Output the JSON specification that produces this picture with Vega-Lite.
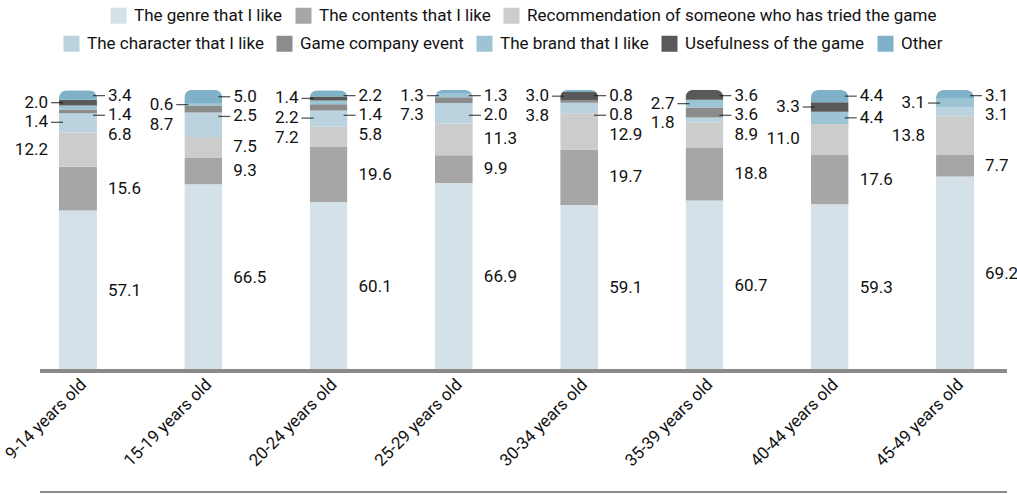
{
  "$schema": "https://vega.github.io/schema/vega-lite/v6.json",
  "width": 967,
  "height": 281,
  "autosize": "none",
  "padding": {"left": 40, "top": 90, "right": 10, "bottom": 123},
  "background": "#ffffff",
  "config": {
    "view": {"stroke": null},
    "font": "Roboto",
    "legend": {
      "orient": "none",
      "direction": "horizontal",
      "title": null,
      "symbolType": "square",
      "symbolSize": 256,
      "symbolStrokeWidth": 0,
      "symbolOpacity": 1,
      "labelFont": "Roboto",
      "labelFontSize": 17,
      "labelColor": "#111111",
      "labelLimit": 1000,
      "labelOffset": 7,
      "columnPadding": 12
    }
  },
  "datasets": {
    "shares": [
      {"age": "9-14 years old", "category": "The genre that I like", "value": 57.1},
      {"age": "9-14 years old", "category": "The contents that I like", "value": 15.6},
      {"age": "9-14 years old", "category": "Recommendation of someone who has tried the game", "value": 12.2},
      {"age": "9-14 years old", "category": "The character that I like", "value": 6.8},
      {"age": "9-14 years old", "category": "Game company event", "value": 1.4},
      {"age": "9-14 years old", "category": "The brand that I like", "value": 1.4},
      {"age": "9-14 years old", "category": "Usefulness of the game", "value": 2.0},
      {"age": "9-14 years old", "category": "Other", "value": 3.4},

      {"age": "15-19 years old", "category": "The genre that I like", "value": 66.5},
      {"age": "15-19 years old", "category": "The contents that I like", "value": 9.3},
      {"age": "15-19 years old", "category": "Recommendation of someone who has tried the game", "value": 7.5},
      {"age": "15-19 years old", "category": "The character that I like", "value": 8.7},
      {"age": "15-19 years old", "category": "Game company event", "value": 2.5},
      {"age": "15-19 years old", "category": "The brand that I like", "value": 0.6},
      {"age": "15-19 years old", "category": "Other", "value": 5.0},

      {"age": "20-24 years old", "category": "The genre that I like", "value": 60.1},
      {"age": "20-24 years old", "category": "The contents that I like", "value": 19.6},
      {"age": "20-24 years old", "category": "Recommendation of someone who has tried the game", "value": 7.2},
      {"age": "20-24 years old", "category": "The character that I like", "value": 5.8},
      {"age": "20-24 years old", "category": "Game company event", "value": 2.2},
      {"age": "20-24 years old", "category": "The brand that I like", "value": 1.4},
      {"age": "20-24 years old", "category": "Usefulness of the game", "value": 1.4},
      {"age": "20-24 years old", "category": "Other", "value": 2.2},

      {"age": "25-29 years old", "category": "The genre that I like", "value": 66.9},
      {"age": "25-29 years old", "category": "The contents that I like", "value": 9.9},
      {"age": "25-29 years old", "category": "Recommendation of someone who has tried the game", "value": 11.3},
      {"age": "25-29 years old", "category": "The character that I like", "value": 7.3},
      {"age": "25-29 years old", "category": "Game company event", "value": 2.0},
      {"age": "25-29 years old", "category": "The brand that I like", "value": 1.3},
      {"age": "25-29 years old", "category": "Other", "value": 1.3},

      {"age": "30-34 years old", "category": "The genre that I like", "value": 59.1},
      {"age": "30-34 years old", "category": "The contents that I like", "value": 19.7},
      {"age": "30-34 years old", "category": "Recommendation of someone who has tried the game", "value": 12.9},
      {"age": "30-34 years old", "category": "The character that I like", "value": 3.8},
      {"age": "30-34 years old", "category": "Game company event", "value": 0.8},
      {"age": "30-34 years old", "category": "Usefulness of the game", "value": 3.0},
      {"age": "30-34 years old", "category": "Other", "value": 0.8},

      {"age": "35-39 years old", "category": "The genre that I like", "value": 60.7},
      {"age": "35-39 years old", "category": "The contents that I like", "value": 18.8},
      {"age": "35-39 years old", "category": "Recommendation of someone who has tried the game", "value": 8.9},
      {"age": "35-39 years old", "category": "The character that I like", "value": 1.8},
      {"age": "35-39 years old", "category": "Game company event", "value": 3.6},
      {"age": "35-39 years old", "category": "The brand that I like", "value": 2.7},
      {"age": "35-39 years old", "category": "Usefulness of the game", "value": 3.6},

      {"age": "40-44 years old", "category": "The genre that I like", "value": 59.3},
      {"age": "40-44 years old", "category": "The contents that I like", "value": 17.6},
      {"age": "40-44 years old", "category": "Recommendation of someone who has tried the game", "value": 11.0},
      {"age": "40-44 years old", "category": "The brand that I like", "value": 4.4},
      {"age": "40-44 years old", "category": "Usefulness of the game", "value": 3.3},
      {"age": "40-44 years old", "category": "Other", "value": 4.4},

      {"age": "45-49 years old", "category": "The genre that I like", "value": 69.2},
      {"age": "45-49 years old", "category": "The contents that I like", "value": 7.7},
      {"age": "45-49 years old", "category": "Recommendation of someone who has tried the game", "value": 13.8},
      {"age": "45-49 years old", "category": "The character that I like", "value": 3.1},
      {"age": "45-49 years old", "category": "The brand that I like", "value": 3.1},
      {"age": "45-49 years old", "category": "Other", "value": 3.1}
    ]
  },
  "data": {"name": "shares"},
  "transform": [
    {"calculate": "indexof(['The genre that I like','The contents that I like','Recommendation of someone who has tried the game','The character that I like','Game company event','The brand that I like','Usefulness of the game','Other'], datum.category)", "as": "idx"}
  ],
  "layer": [
    {
      "mark": {"type": "bar", "cornerRadiusEnd": 8},
      "encoding": {
        "x": {
          "field": "age",
          "type": "nominal",
          "sort": ["9-14 years old", "15-19 years old", "20-24 years old", "25-29 years old", "30-34 years old", "35-39 years old", "40-44 years old", "45-49 years old"],
          "scale": {"range": [19, 934], "paddingInner": 0.697, "paddingOuter": 0},
          "axis": {
            "title": null,
            "domain": false,
            "ticks": false,
            "labelAngle": -45,
            "labelFont": "Roboto",
            "labelFontSize": 17,
            "labelColor": "#111111",
            "labelPadding": 5
          }
        },
        "y": {
          "field": "value",
          "type": "quantitative",
          "stack": "zero",
          "scale": {"domain": [0, 100], "nice": false},
          "axis": null
        },
        "color": {
          "field": "category",
          "type": "nominal",
          "scale": {
            "domain": ["The genre that I like", "The contents that I like", "Recommendation of someone who has tried the game", "The character that I like", "Game company event", "The brand that I like", "Usefulness of the game", "Other"],
            "range": ["#d5e1e8", "#a6a6a6", "#cccccc", "#bad3de", "#8c8c8c", "#9dc4d4", "#595959", "#7fb2c8"]
          },
          "legend": null
        },
        "order": {"field": "idx", "type": "quantitative", "sort": "ascending"}
      }
    },
    {
      "mark": {"type": "rule", "color": "#8a8a8a", "strokeWidth": 3},
      "encoding": {"y": {"datum": 0}}
    },
    {
      "mark": {"type": "rule", "color": "#8a8a8a", "strokeWidth": 1.5},
      "encoding": {"y": {"datum": -43.06}}
    },
    {
      "transform": [
        {"filter": "datum.value > 0"},
        {"stack": "value", "groupby": ["age"], "sort": [{"field": "idx", "order": "ascending"}], "as": ["s0", "s1"]},
        {"calculate": "(datum.s0 + datum.s1) / 2", "as": "mid"},
        {"window": [{"op": "row_number", "as": "rk"}], "groupby": ["age"], "sort": [{"field": "idx", "order": "descending"}]},
        {"calculate": "(datum.idx <= 1 || datum.rk % 2 == 1) ? 'R' : 'L'", "as": "side"},
        {"window": [{"op": "row_number", "as": "r"}], "groupby": ["age", "side"], "sort": [{"field": "idx", "order": "descending"}]},
        {"calculate": "datum.mid + datum.r * 7", "as": "v"},
        {"window": [{"op": "min", "field": "v", "as": "cm"}], "groupby": ["age", "side"], "sort": [{"field": "idx", "order": "descending"}], "frame": [null, 0]},
        {"calculate": "min(datum.cm, 105) - datum.r * 7", "as": "ly"}
      ],
      "encoding": {
        "x": {"field": "age", "type": "nominal", "sort": ["9-14 years old", "15-19 years old", "20-24 years old", "25-29 years old", "30-34 years old", "35-39 years old", "40-44 years old", "45-49 years old"]},
        "y": {"field": "ly", "type": "quantitative"}
      },
      "layer": [
        {
          "transform": [{"filter": "datum.side == 'R' && datum.idx >= 4"}],
          "mark": {"type": "tick", "orient": "horizontal", "size": 12, "thickness": 1.3, "color": "#111111", "xOffset": 21}
        },
        {
          "transform": [{"filter": "datum.side == 'L' && datum.idx >= 4"}],
          "mark": {"type": "tick", "orient": "horizontal", "size": 12, "thickness": 1.3, "color": "#111111", "xOffset": -21}
        },
        {
          "transform": [{"filter": "datum.side == 'R'"}],
          "mark": {"type": "text", "align": "left", "baseline": "middle", "dx": 30, "font": "Roboto", "fontSize": 17, "color": "#111111"},
          "encoding": {"text": {"field": "value", "type": "quantitative", "format": ".1f"}}
        },
        {
          "transform": [{"filter": "datum.side == 'L'"}],
          "mark": {"type": "text", "align": "right", "baseline": "middle", "dx": -30, "font": "Roboto", "fontSize": 17, "color": "#111111"},
          "encoding": {"text": {"field": "value", "type": "quantitative", "format": ".1f"}}
        }
      ]
    },
    {
      "transform": [{"filter": "datum.idx <= 2"}],
      "mark": {"type": "square", "opacity": 0},
      "encoding": {
        "color": {
          "field": "category",
          "type": "nominal",
          "scale": {
            "domain": ["The genre that I like", "The contents that I like", "Recommendation of someone who has tried the game"],
            "range": ["#d5e1e8", "#a6a6a6", "#cccccc"]
          },
          "legend": {"legendX": 70, "legendY": -83}
        }
      }
    },
    {
      "transform": [{"filter": "datum.idx >= 3"}],
      "mark": {"type": "square", "opacity": 0},
      "encoding": {
        "color": {
          "field": "category",
          "type": "nominal",
          "scale": {
            "domain": ["The character that I like", "Game company event", "The brand that I like", "Usefulness of the game", "Other"],
            "range": ["#bad3de", "#8c8c8c", "#9dc4d4", "#595959", "#7fb2c8"]
          },
          "legend": {"legendX": 23, "legendY": -55}
        }
      }
    }
  ],
  "resolve": {"scale": {"color": "independent"}}
}
